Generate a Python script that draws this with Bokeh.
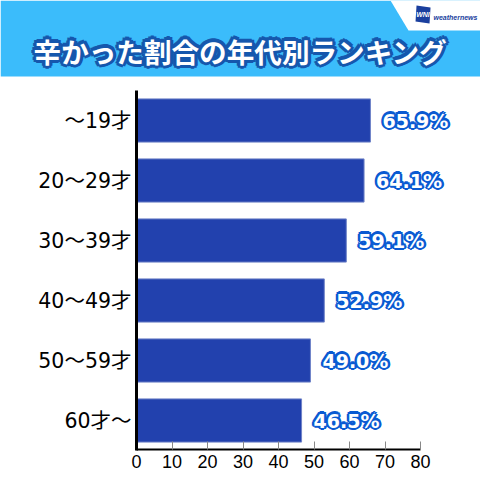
from bokeh.plotting import figure
from bokeh.core.properties import value
from bokeh.models import Label, LabelSet, BoxAnnotation, PolyAnnotation, ColumnDataSource, Range1d
from bokeh.embed import file_html
from bokeh.resources import INLINE

title = "辛かった割合の年代別ランキング"
ages = ["〜19才", "20〜29才", "30〜39才", "40〜49才", "50〜59才", "60才〜"]
rates = [65.9, 64.1, 59.1, 52.9, 49.0, 46.5]
labels = ["65.9%", "64.1%", "59.1%", "52.9%", "49.0%", "46.5%"]
x_ticks = [0, 10, 20, 30, 40, 50, 60, 70, 80]
rows = [5, 4, 3, 2, 1, 0]

SIZE = 480
PX = 3.55  # pixels per percent
p = figure(width=SIZE, height=SIZE, output_backend="svg", toolbar_location=None,
           x_range=Range1d(-136 / PX, (SIZE - 136) / PX), y_range=Range1d(-1, 7),
           min_border=0)
p.outline_line_color = None
p.grid.visible = False

src = ColumnDataSource(dict(row=rows, rate=rates, label=labels))
p.hbar(y="row", right="rate", left=0, height=0.72, source=src,
       fill_color="#2241ae", line_color="#6f83c8", line_width=1)

for (dx, dy) in [(-2.5, 0), (2.5, 0), (0, -2.5), (0, 2.5), (-1.8, -1.8), (1.8, -1.8), (-1.8, 1.8), (1.8, 1.8), (None, None)]:
    halo = dx is not None
    p.add_layout(LabelSet(x="rate", y="row", text="label", source=src,
                          x_offset=12 + (dx or 0), y_offset=dy or 0,
                          text_font=value("DejaVu Sans"), text_font_style="bold", text_font_size="19px",
                          text_align="left", text_baseline="middle",
                          text_color="#0a5ad2" if halo else "#ffffff"))

xa = p.xaxis[0]
xa.fixed_location = -0.49
xa.bounds = (0, 80)
xa.ticker = x_ticks
xa.axis_line_color = "#000000"
xa.axis_line_width = 2
xa.major_tick_in = 8
xa.major_tick_out = 0
xa.major_tick_line_color = "#888888"
xa.minor_tick_line_color = None
xa.major_label_standoff = 5
xa.major_label_text_font = "Liberation Sans"
xa.major_label_text_font_size = "18px"
xa.major_label_text_color = "#000000"

ya = p.yaxis[0]
ya.fixed_location = 0
ya.bounds = (-0.5, 5.5)
ya.ticker = rows
ya.major_label_overrides = dict(zip(rows, ages))
ya.axis_line_color = "#000000"
ya.axis_line_width = 3
ya.major_tick_line_color = None
ya.minor_tick_line_color = None
ya.major_tick_in = 0
ya.major_tick_out = 0
ya.major_label_standoff = 5
ya.major_label_text_font = "DejaVu Sans, Noto Sans CJK JP"
ya.major_label_text_font_size = "20.5px"
ya.major_label_text_color = "#000000"

# header band
p.add_layout(BoxAnnotation(left=0, right=SIZE, top=0, bottom=76,
                           left_units="canvas", right_units="canvas",
                           top_units="canvas", bottom_units="canvas",
                           fill_color="#3bbcfb", fill_alpha=1, line_color=None))
p.add_layout(PolyAnnotation(xs=[390, SIZE, SIZE, 408], ys=[0, 0, 30, 30],
                            xs_units="canvas", ys_units="canvas",
                            fill_color="#ffffff", fill_alpha=1, line_color=None))
p.add_layout(PolyAnnotation(xs=[416, 430, 429, 415], ys=[5, 7, 23, 21],
                            xs_units="canvas", ys_units="canvas",
                            fill_color="#1a3f9e", fill_alpha=1, line_color=None))
def lab(txt, x, y, **kw):
    p.add_layout(Label(x=x, y=y, x_units="canvas", y_units="canvas", text=txt, **kw))
lab("WNI", 422.5, 14, text_color="#ffffff", text_font="Liberation Sans", text_font_style="bold italic",
    text_font_size="7px", text_align="center", text_baseline="middle")
lab("weathernews", 433, 16.5, text_color="#1a3f9e", text_font="Liberation Sans", text_font_style="bold italic",
    text_font_size="7px", text_align="left", text_baseline="middle")
for (dx, dy) in [(-3.5, 0), (3.5, 0), (0, -3.5), (0, 3.5), (-2.5, -2.5), (2.5, -2.5), (-2.5, 2.5), (2.5, 2.5)]:
    lab(title, 240 + dx, 50 + dy, text_color="#1557ad", text_font="Noto Sans CJK JP", text_font_style="bold",
        text_font_size="27.6px", text_align="center", text_baseline="middle")
lab(title, 240, 50, text_color="#ffffff", text_font="Noto Sans CJK JP", text_font_style="bold",
    text_font_size="27.6px", text_align="center", text_baseline="middle")

open("out.html", "w").write(file_html(p, INLINE))
